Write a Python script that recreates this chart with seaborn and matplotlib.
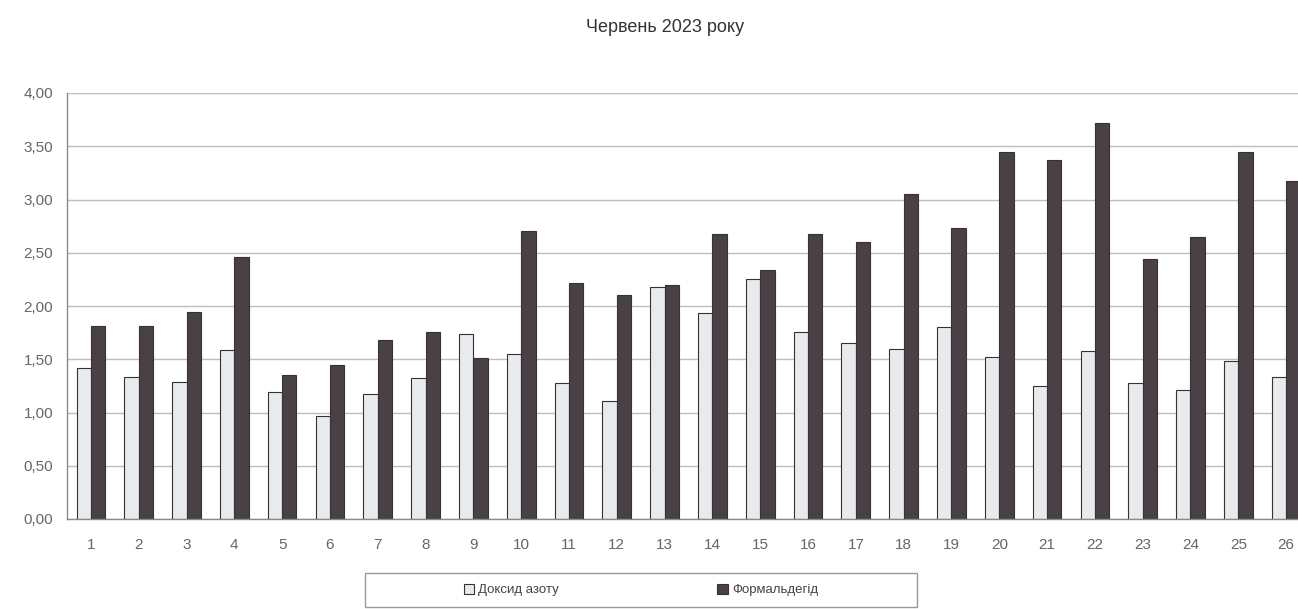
import numpy as np
import pandas as pd
import matplotlib
matplotlib.use("Agg")
import matplotlib.pyplot as plt
import seaborn as sns
from matplotlib.patches import Rectangle, Patch
from matplotlib.ticker import FuncFormatter, FixedLocator

days = [str(i) for i in range(1, 27)]
no2 = [1.42, 1.33, 1.29, 1.59, 1.19, 0.97, 1.17, 1.32, 1.74, 1.55, 1.28, 1.11, 2.18,
       1.93, 2.25, 1.76, 1.65, 1.60, 1.80, 1.52, 1.25, 1.58, 1.28, 1.21, 1.48, 1.33]
formaldehyde = [1.81, 1.81, 1.94, 2.46, 1.35, 1.45, 1.68, 1.76, 1.51, 2.70, 2.22, 2.10, 2.20,
                2.68, 2.34, 2.68, 2.60, 3.05, 2.73, 3.45, 3.37, 3.72, 2.44, 2.65, 3.45, 3.17]
series_names = ["Доксид азоту", "Формальдегід"]
title = "Червень 2023 року"

df = pd.DataFrame({
    "day": days * 2,
    "value": no2 + formaldehyde,
    "series": [series_names[0]] * len(days) + [series_names[1]] * len(days),
})

sns.set_style("white")
plt.rcParams["font.family"] = ["Liberation Sans", "DejaVu Sans"]

W, H = 1298, 609
fig = plt.figure(figsize=(W / 100, H / 100), dpi=100)
left, right, top, bottom = 67, 1310, 93, 519
ax = fig.add_axes([left / W, 1 - bottom / H, (right - left) / W, (bottom - top) / H])

light = "#e7e9ef"
dark = "#4b4046"
sns.barplot(data=df, x="day", y="value", hue="series", order=days,
            hue_order=series_names, palette=[light, dark], width=0.6,
            edgecolor="#333333", linewidth=0.8, ax=ax, legend=False)

ax.set_xlim(-0.5, len(days) - 0.5)
ax.set_ylim(0, 4.0)
ax.set_yticks(np.arange(0, 4.01, 0.5))
ax.yaxis.set_major_formatter(FuncFormatter(lambda v, p: f"{v:.2f}".replace(".", ",")))
ax.set_xlabel("")
ax.set_ylabel("")
ax.grid(axis="y", color="#bdbdbd", linewidth=1.0)
ax.axhline(4.0, color="#888888", linewidth=1.2, zorder=0.5)
ax.set_axisbelow(True)
for s in ["top", "right"]:
    ax.spines[s].set_visible(False)
for s in ["left", "bottom"]:
    ax.spines[s].set_color("#8a8a8a")
    ax.spines[s].set_linewidth(1.0)
ax.tick_params(axis="x", which="major", length=0, pad=14, labelsize=11, labelcolor="#666666")
ax.xaxis.set_minor_locator(FixedLocator(np.arange(-0.5, len(days), 1.0)))
ax.tick_params(axis="x", which="minor", length=4, color="#8a8a8a", direction="out")
ax.tick_params(axis="y", length=4, color="#8a8a8a", direction="out", pad=6,
               labelsize=11, labelcolor="#666666")

fig.text(665 / W, 1 - 27 / H, title, ha="center", va="center", fontsize=13, color="#333333")

# legend box
fig.patches.append(Rectangle((365 / W, 1 - 607 / H), 552 / W, 34 / H,
                             transform=fig.transFigure, fill=False,
                             edgecolor="#999999", linewidth=1.0))
handles = [Patch(facecolor=light, edgecolor="#333333", linewidth=0.8),
           Patch(facecolor=dark, edgecolor="#333333", linewidth=0.8)]
fig.legend(handles, series_names, loc="center", bbox_to_anchor=(641 / W, 1 - 590 / H),
           ncol=2, frameon=False, fontsize=9.5, handlelength=0.8, handleheight=0.8,
           handletextpad=0.3, columnspacing=12, labelcolor="#444444")

fig.savefig("out.png", dpi=100)
